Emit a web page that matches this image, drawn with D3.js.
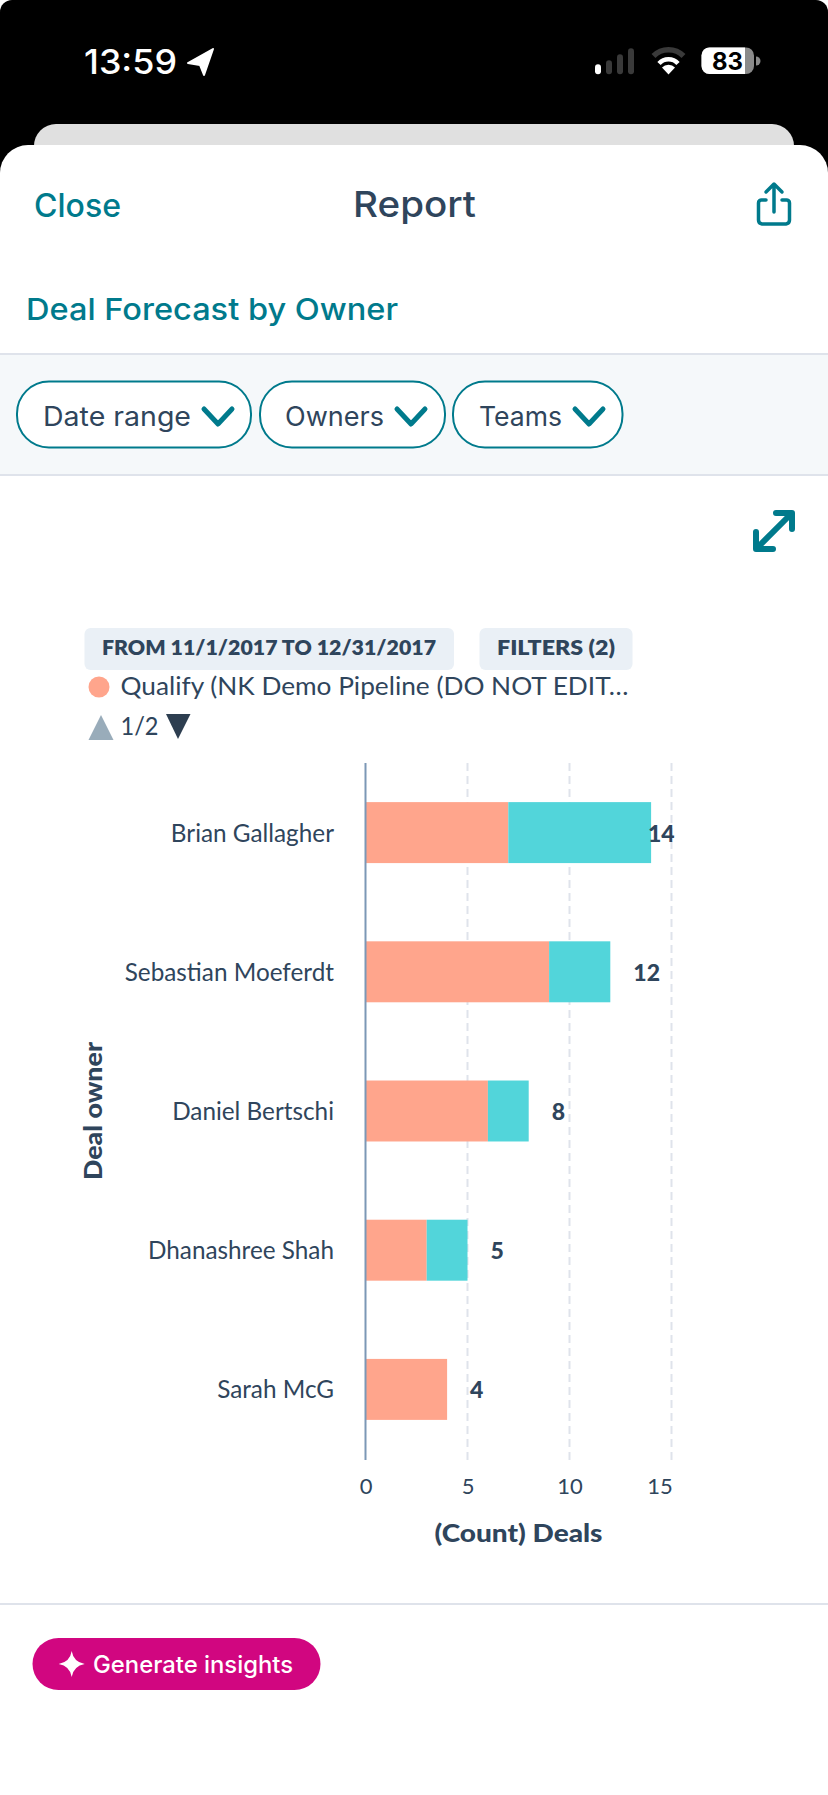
<!DOCTYPE html>
<html><head><meta charset="utf-8">
<script src="https://cdn.jsdelivr.net/npm/d3@7/dist/d3.min.js"></script>
<style>
html,body{margin:0;padding:0;background:#fff}
svg{display:block}
text{font-family:Lato,"Open Sans",sans-serif}
.head{font-family:Inter,Lato,sans-serif}
</style></head>
<body><svg id="screen" width="828" height="1795"></svg>
<script>
// Deal counts per owner, stacked by pipeline stage
const owners = ["Brian Gallagher","Sebastian Moeferdt","Daniel Bertschi","Dhanashree Shah","Sarah McG"];
const qualify = [7,9,6,3,4];
const proposal = [7,3,2,2,0];
const totals = [14,12,8,5,4];
const xTicks = [0,5,10,15];
const stages = ["qualify","proposal"];
const stageColors = ["#ffa58c","#52d5da"];
const filterChips = ["Date range","Owners","Teams"];

const navy="#2f455c", teal="#007a8c", line="#dfe3eb";
const svg=d3.select("#screen");
const txt=(s,x,y,size,fill,weight,anchor,width)=>{
  const t=svg.append("text").attr("x",x).attr("y",y).attr("font-size",size).attr("fill",fill)
    .attr("font-weight",weight||400).attr("text-anchor",anchor||"start").text(s);
  if(width) t.attr("textLength",width).attr("lengthAdjust","spacingAndGlyphs");
  return t;
};
const box=(x,y,w,h,fill,r)=>svg.append("rect").attr("x",x).attr("y",y).attr("width",w).attr("height",h).attr("fill",fill).attr("rx",r||0);

// Status bar and stacked sheets
box(0,0,828,1795,"#fff");
svg.append("path").attr("fill","#000").attr("d","M0 300V12A12 12 0 0 1 12 0H816A12 12 0 0 1 828 12V300Z");
box(34,124,760,60,"#e0e0e0",22);
svg.append("path").attr("fill","#fff").attr("d","M0 1795V173a28 28 0 0 1 28-28H800a28 28 0 0 1 28 28V1795Z");
txt("13:59",84,74,34,"#fff",500,"start",93).attr("class","head");
svg.append("path").attr("fill","#fff").attr("stroke","#fff").attr("stroke-width",2).attr("stroke-linejoin","round")
  .attr("d","M213 49L188 63L200 65L204 75Z");
[[595,10],[606,14],[617,20],[628,26]].forEach((b,i)=>box(b[0],74.3-b[1],6,b[1],i?"#3a3a3a":"#fff",3));
svg.append("path").attr("fill","none").attr("stroke","#3a3a3a").attr("stroke-width",5.5).attr("d","M653.5 56A21 21 0 0 1 683.5 56");
svg.append("path").attr("fill","none").attr("stroke","#fff").attr("stroke-width",4.5).attr("d","M659 63.5A13 13 0 0 1 678 63.5");
svg.append("path").attr("fill","#fff").attr("d","M668.5 74.5L662 67.5A9 9 0 0 1 675 67.5Z");
box(701.5,47.5,52.5,26.5,"#8a8a8a",8);
svg.append("path").attr("fill","#fff").attr("d","M709.5 47.5H745V74H709.5A8 8 0 0 1 701.5 66V55.5A8 8 0 0 1 709.5 47.5Z");
svg.append("path").attr("fill","#8a8a8a").attr("d","M756 56.5A4.5 4.5 0 0 1 756 65.5Z");
txt("83",727.5,70,24,"#000",700,"middle",31).attr("class","head");

// Navigation header
txt("Close",34,217,32,teal,500,"start",87).attr("class","head");
txt("Report",353,217,36,navy,500,"start",123).attr("class","head");
const share=svg.append("g").attr("fill","none").attr("stroke",teal).attr("stroke-width",3.5).attr("stroke-linecap","round").attr("stroke-linejoin","round");
share.append("path").attr("d","M766 200H762A3 3 0 0 0 758.5 203V220A4 4 0 0 0 762 224H786A4 4 0 0 0 789.5 220V203A3 3 0 0 0 786 200H782");
share.append("path").attr("d","M774 212V185M766 192L774 184L782 192");
txt("Deal Forecast by Owner",26,320,30,teal,500,"start",372).attr("class","head");

// Filter strip
box(0,354,828,121,"#f5f8fa");
box(0,353,828,2,line); box(0,474,828,2,line);
const chipBoxes=[[17,234,43,148,202],[260,185,285,99,395],[453,169.5,479,83,573]];
filterChips.forEach((c,i)=>{
  const [x,w,tx,tw,cx]=chipBoxes[i];
  svg.append("rect").attr("x",x).attr("y",381.5).attr("width",w).attr("height",66).attr("rx",32).attr("fill","#fff").attr("stroke",teal).attr("stroke-width",2);
  txt(c,tx,426,27,navy,400,"start",tw).attr("class","head");
  svg.append("path").attr("fill","none").attr("stroke",teal).attr("stroke-width",5).attr("stroke-linecap","round").attr("stroke-linejoin","round")
    .attr("d",`M${cx+2} 409L${cx+16} 424L${cx+30} 409`);
});
// Expand control
svg.append("path").attr("fill","none").attr("stroke",teal).attr("stroke-width",6).attr("stroke-linecap","round").attr("stroke-linejoin","round")
  .attr("d","M757 548L791 514M776 513H792V529M756 532V549H773");

// Report badges, legend and pager
box(84.5,628,369.5,42,"#eaf0f6",6);
box(479.5,628,153,42,"#eaf0f6",6);
txt("FROM 11/1/2017 TO 12/31/2017",102,655,20,navy,800,"start",334);
txt("FILTERS (2)",497,655,20,navy,800,"start",118);
svg.append("circle").attr("cx",99).attr("cy",687).attr("r",10.5).attr("fill",stageColors[0]);
txt("Qualify (NK Demo Pipeline (DO NOT EDIT…",120.5,695,25,navy,400,"start",508);
svg.append("path").attr("fill","#99acba").attr("d","M88.5 740L101 715L113.5 740Z");
txt("1/2",120.5,735,25,navy,400,"start",38);
svg.append("path").attr("fill","#2d3e50").attr("d","M166 714H190.5L178 739Z");

// Stacked bar chart
const x=d3.scaleLinear().domain([0,15]).range([365.5,671.5]);
const y=d3.scaleBand().domain(owners).range([763,1459]).paddingInner(0.562).paddingOuter(0.281);
const plotBottom=1460;

const grid=svg.append("g");
grid.selectAll("line").data(xTicks.slice(1)).join("line")
  .attr("x1",d=>x(d)).attr("x2",d=>x(d)).attr("y1",763).attr("y2",plotBottom)
  .attr("stroke",line).attr("stroke-width",2).attr("stroke-dasharray","8 5");

const rows=owners.map((o,i)=>({owner:o,qualify:qualify[i],proposal:proposal[i]}));
const series=d3.stack().keys(stages)(rows);
svg.append("g").selectAll("g").data(series).join("g").attr("fill",(d,i)=>stageColors[i])
  .selectAll("rect").data(d=>d).join("rect")
  .attr("x",d=>x(d[0])).attr("width",d=>x(d[1])-x(d[0]))
  .attr("y",d=>y(d.data.owner)).attr("height",y.bandwidth());

// Axis line on the zero position
svg.append("line").attr("x1",x(0)).attr("x2",x(0)).attr("y1",763).attr("y2",plotBottom).attr("stroke","#7c98b6").attr("stroke-width",2);

// Owner names
const yAxis=svg.append("g").attr("transform","translate(334,0)").call(d3.axisLeft(y).tickSize(0).tickPadding(0));
yAxis.select(".domain").remove();
yAxis.selectAll("text").attr("font-size",24.3).attr("fill",navy).attr("font-family","Lato").attr("dy","0.37em");

// Count axis, with the last label pulled inside the chart edge
const xAxis=svg.append("g").attr("transform",`translate(0,${plotBottom})`)
  .call(d3.axisBottom(x).tickValues(xTicks).tickSize(0).tickPadding(18));
xAxis.select(".domain").remove();
xAxis.selectAll("text").attr("font-size",22).attr("fill",navy).attr("font-family","Lato")
  .attr("dx",d=>d===15?-12:0);

// Totals next to each bar; the longest one is clamped to the chart edge
svg.append("g").selectAll("text").data(totals).join("text")
  .attr("x",d=>Math.min(x(d)+23,648)).attr("y",(d,i)=>y(owners[i])+y.bandwidth()/2+9)
  .attr("font-size",23).attr("font-weight",900).attr("fill",navy).text(d=>d);

txt("(Count) Deals",518.5,1542,24,navy,900,"middle",168);
svg.append("text").attr("transform","translate(102,1111) rotate(-90)").attr("text-anchor","middle")
  .attr("font-size",24).attr("font-weight",900).attr("fill",navy)
  .attr("textLength",138).attr("lengthAdjust","spacingAndGlyphs").text("Deal owner");

// Footer action
box(0,1603,828,2,line);
box(32.5,1638,288,52,"#d10680",26);
svg.append("path").attr("fill","#fff").attr("d","M71.7 1651Q73.5 1662 84.7 1664Q73.5 1666 71.7 1677Q70 1666 58.7 1664Q70 1662 71.7 1651Z");
txt("Generate insights",93,1673,24,"#fff",500,"start",200).attr("class","head");
</script></body></html>
